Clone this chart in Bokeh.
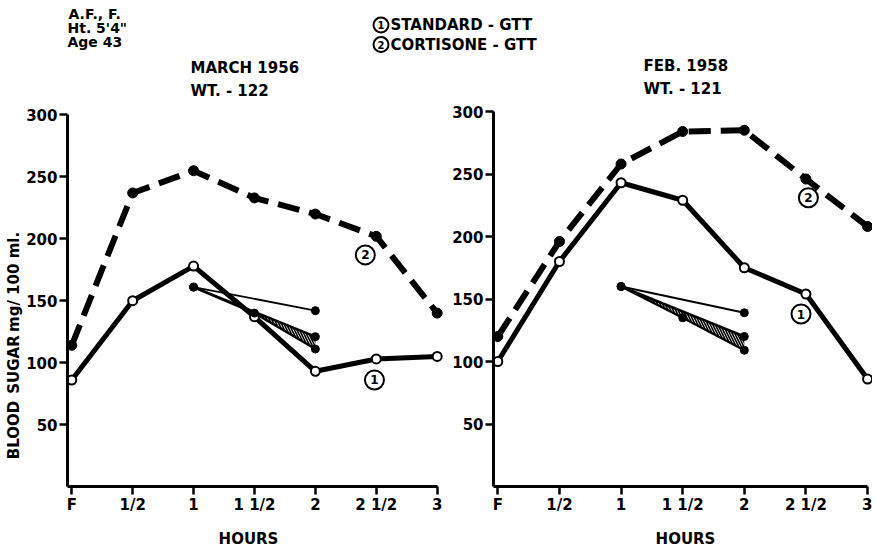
import math
from bokeh.plotting import figure
from bokeh.models import Range1d, FixedTicker
from bokeh.layouts import column, row
from bokeh.core.properties import value
from bokeh.embed import file_html
from bokeh.resources import INLINE

# ---------------- data ----------------
hours = [0, 0.5, 1, 1.5, 2, 2.5, 3]
hour_labels = ["F", "1/2", "1", "1 1/2", "2", "2 1/2", "3"]
sugar_ticks = [50, 100, 150, 200, 250, 300]

standard_1956 = [86, 150, 178, 137, 93, 103, 105]
cortisone_1956 = [114, 237, 255, 233, 220, 202, 140]
standard_1958 = [100, 180, 243, 229, 175, 154, 86]
cortisone_1958 = [120, 196, 258, 284, 285, 246, 208]

slope_hours = [1, 1.5, 2]
thin_hours = [1, 2]
thin_1956 = [161, 142]
band_hi_1956 = [161, 141, 121]
band_lo_1956 = [161, 140, 111]
thin_1958 = [160, 139]
band_hi_1958 = [160, 140, 120]
band_lo_1958 = [160, 135, 109]

legend_tags = ["1", "2"]
legend_names = ["STANDARD - GTT", "CORTISONE - GTT"]

FONT = "DejaVu Sans"
HEADER_H = 56
MID_H = 473
FOOTER_H = 18
PX_PER_MG = 1.25
YL_W = 23
ROT_SHIFT = 37   # empirical correction for rotated text placement in the title strip


def txt(p, x, y, text, size="15px", align="left", angle=0.0):
    p.text(x=[x], y=[y], text=[text], angle=angle, text_font=value(FONT),
           text_font_style="bold", text_font_size=size, text_color="black",
           text_align=align, text_baseline="middle")


def pixel_fig(width, height):
    f = figure(width=width, height=height, x_range=Range1d(0, width), y_range=Range1d(height, 0),
               x_axis_type=None, y_axis_type=None, output_backend="svg",
               toolbar_location=None, min_border=0)
    f.grid.visible = False
    f.outline_line_color = None
    return f


def tag(p, xs, ys, labels, size, font_size):
    p.scatter(xs, ys, size=size, fill_color="white", line_color="black", line_width=2)
    p.text(xs, ys, text=labels, text_font=value(FONT), text_font_style="bold",
           text_font_size=font_size, text_align="center", text_baseline="middle", color="black")


def panel(width, b_left, b_bottom, x_rng, std, cort, thin, hi, lo, tags):
    frame_h = MID_H - b_bottom
    p = figure(width=width, height=MID_H, x_range=Range1d(*x_rng),
               y_range=Range1d(0, frame_h / PX_PER_MG),
               output_backend="svg", toolbar_location=None,
               min_border_left=b_left, min_border_right=0,
               min_border_top=0, min_border_bottom=b_bottom)
    p.grid.visible = False
    p.outline_line_color = None

    p.xaxis.ticker = FixedTicker(ticks=hours)
    p.xaxis.major_label_overrides = {h: t for h, t in zip(hours, hour_labels)}
    p.yaxis.ticker = FixedTicker(ticks=sugar_ticks)
    for ax in p.axis:
        ax.axis_line_width = 3
        ax.axis_line_color = "black"
        ax.major_tick_line_width = 2.5
        ax.major_tick_line_color = "black"
        ax.minor_tick_line_color = None
        ax.major_tick_in = 0
        ax.major_tick_out = 8
        ax.major_label_text_font = FONT
        ax.major_label_text_font_style = "bold"
        ax.major_label_text_font_size = "15px"
        ax.major_label_text_color = "black"
    p.xaxis.major_label_standoff = 1
    p.yaxis.major_label_standoff = 2
    p.xaxis.bounds = (x_rng[0], 3)
    p.yaxis.bounds = (0, 300)

    # cortisone GTT (dashed, filled dots)
    p.line(hours, cort, line_width=6, line_dash="22 10", color="black")
    p.scatter(hours, cort, size=10, color="black")
    # standard GTT (solid, open circles)
    p.line(hours, std, line_width=5, color="black")
    p.scatter(hours, std, size=9, fill_color="white", line_color="black", line_width=2)

    # slopes with hatched band
    p.varea(x=slope_hours, y1=lo, y2=hi, fill_color=None, fill_alpha=0,
            hatch_pattern="\\", hatch_color="black", hatch_scale=5, hatch_weight=1.6)
    p.line(thin_hours, thin, line_width=1.8, color="black")
    p.line(slope_hours, hi, line_width=2.5, color="black")
    p.line(slope_hours, lo, line_width=2.5, color="black")
    p.scatter(slope_hours, lo, size=8, color="black")
    p.scatter([slope_hours[-1]], [hi[-1]], size=8, color="black")
    p.scatter(thin_hours, thin, size=8, color="black")

    # circled curve tags
    tag(p, [t[1] for t in tags], [t[2] for t in tags], [t[0] for t in tags], 19, "12px")
    return p


def to_data(frame_left_win, px_per_hour, x_start, y_zero_win, wx, wy):
    # page position (px) -> panel data coordinates, used only to place titles
    return x_start + (wx - frame_left_win) / px_per_hour, (y_zero_win - wy) / PX_PER_MG


# ---------------- y-axis title strip (rotated words, anchored at their lower end) ----------------
ylab = pixel_fig(YL_W, MID_H)
for word, wy in (("BLOOD", 462), ("SUGAR", 390), ("mg/ 100 ml.", 322)):
    txt(ylab, 13, wy - HEADER_H + ROT_SHIFT, word, align="left", angle=math.pi / 2)

# ---------------- left panel (March 1956) ----------------
L_W, L_BL, L_BB = 421, 44, 39
L_RNG = (-0.035, 3.06)
left = panel(L_W, L_BL, L_BB, L_RNG, standard_1956, cortisone_1956, thin_1956,
             band_hi_1956, band_lo_1956, [("1", 2.485, 86), ("2", 2.41, 187)])
l_pph = (L_W - L_BL) / (L_RNG[1] - L_RNG[0])
l_fl = YL_W + L_BL
l_y0 = HEADER_H + MID_H - L_BB
x, y = to_data(l_fl, l_pph, L_RNG[0], l_y0, 190, 67.5); txt(left, x, y, "MARCH 1956")
x, y = to_data(l_fl, l_pph, L_RNG[0], l_y0, 190, 90.5); txt(left, x, y, "WT. - 122")

# ---------------- right panel (Feb 1958) ----------------
R_W, R_BL, R_BB = 428, 49, 43
R_RNG = (-0.035, 3.04)
right = panel(R_W, R_BL, R_BB, R_RNG, standard_1958, cortisone_1958, thin_1958,
              band_hi_1958, band_lo_1958, [("1", 2.46, 138), ("2", 2.52, 231)])
r_pph = (R_W - R_BL) / (R_RNG[1] - R_RNG[0])
r_fl = YL_W + L_W + R_BL
r_y0 = HEADER_H + MID_H - R_BB
x, y = to_data(r_fl, r_pph, R_RNG[0], r_y0, 643, 65.5); txt(right, x, y, "FEB. 1958")
x, y = to_data(r_fl, r_pph, R_RNG[0], r_y0, 643, 88.5); txt(right, x, y, "WT. - 121")

TOTAL_W = YL_W + L_W + R_W

# ---------------- header ----------------
header = pixel_fig(TOTAL_W, HEADER_H)
txt(header, 68, 13, "A.F., F.", size="14px")
txt(header, 67, 27, "Ht. 5'4\"", size="14px")
txt(header, 67, 41.5, "Age 43", size="14px")
tag(header, [380.5, 380.5], [24.5, 44], legend_tags, 15, "10px")
txt(header, 390, 24, legend_names[0])
txt(header, 390, 44, legend_names[1])

# ---------------- footer (x-axis titles) ----------------
footer = pixel_fig(TOTAL_W, FOOTER_H)
txt(footer, 248, 9, "HOURS", align="center")
txt(footer, 685, 9, "HOURS", align="center")

layout = column(header, row(ylab, left, right), footer)
open("out.html", "w").write(file_html(layout, INLINE))
